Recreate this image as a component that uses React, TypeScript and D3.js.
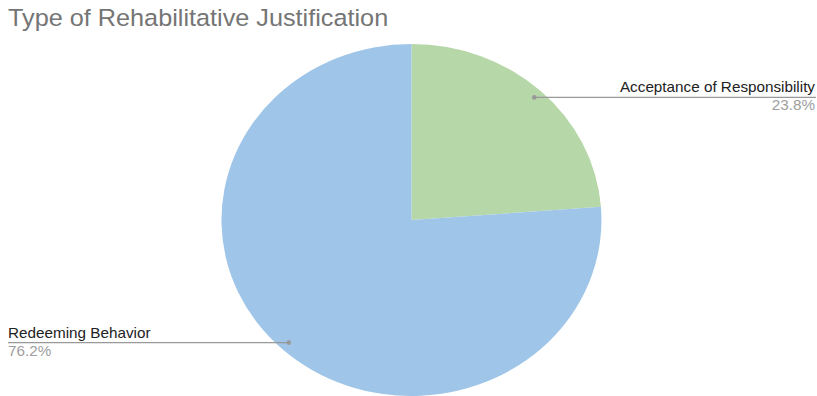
import React from "react";
import * as d3 from "d3";

const categories = ["Acceptance of Responsibility", "Redeeming Behavior"];
const values = [23.8, 76.2];
const percentLabels = ["23.8%", "76.2%"];
const colors = ["#b6d7a8", "#9fc5e8"];
const title = "Type of Rehabilitative Justification";

export default function App() {
  const W = 817, H = 396;
  const cx = 411.5, cy = 220, rx = 190, ry = 176;
  const sx = 1.075;
  const pie = d3.pie<number>().sort(null).value((d) => d);
  const arcs = pie(values);
  const arc = d3.arc<d3.PieArcDatum<number>>().innerRadius(0).outerRadius(1);
  const font = "'Liberation Sans', Arial, sans-serif";
  return (
    <svg width={W} height={H} style={{ position: "absolute", left: 0, top: 0 }} fontFamily={font}>
      <rect width={W} height={H} fill="#fff" />
      <text transform={`translate(8,26) scale(${sx},1)`} fontSize={23.5} fill="#757575">{title}</text>
      <g transform={`translate(${cx},${cy}) scale(${rx},${ry})`}>
        {arcs.map((a, i) => (
          <path key={i} d={arc(a) || ""} fill={colors[i]} />
        ))}
      </g>
      {arcs.map((a, i) => {
        const mid = (a.startAngle + a.endAngle) / 2;
        const px = cx + Math.sin(mid) * 0.95 * rx;
        const py = cy - Math.cos(mid) * 0.95 * ry;
        const right = Math.sin(mid) > 0;
        const lx = right ? 816 : 8;
        const anchor = right ? "end" : "start";
        const tx = right ? 815 : 8;
        return (
          <g key={i}>
            <line x1={lx} x2={px} y1={py} y2={py} stroke="#999" strokeWidth={1.2} />
            <circle cx={px} cy={py} r={2.3} fill="#999" />
            <text transform={`translate(${tx},${py - 5}) scale(${sx},1)`} fontSize={14.2} fill="#222" textAnchor={anchor}>{categories[i]}</text>
            <text transform={`translate(${tx},${py + 13}) scale(${sx},1)`} fontSize={14.2} fill="#9e9e9e" textAnchor={anchor}>{percentLabels[i]}</text>
          </g>
        );
      })}
    </svg>
  );
}
